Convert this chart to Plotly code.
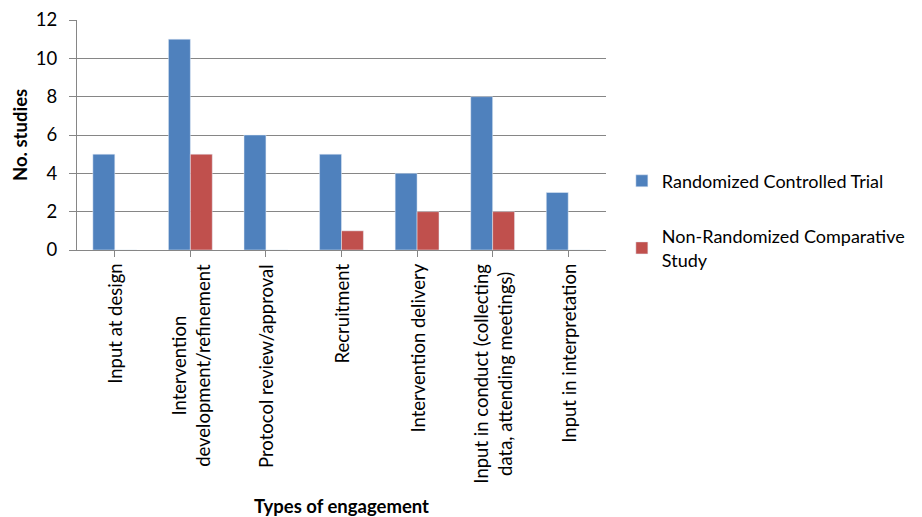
import plotly.graph_objects as go

categories = [
    "Input at design",
    "Intervention<br>development/refinement",
    "Protocol review/approval",
    "Recruitment",
    "Intervention delivery",
    "Input in conduct (collecting<br>data, attending meetings)",
    "Input in interpretation",
]
rct = [5, 11, 6, 5, 4, 8, 3]
nrcs = [0, 5, 0, 1, 2, 2, 0]
series_names = ["Randomized Controlled Trial", "Non-Randomized Comparative<br>Study"]
y_ticks = [0, 2, 4, 6, 8, 10, 12]

FONT = "Lato"
FS = 18.5
GRID = "#868686"

fig = go.Figure()
fig.add_trace(go.Bar(x=list(range(len(categories))), y=rct, name=series_names[0],
                     marker_color="#4F81BD", legendgroup="a"))
fig.add_trace(go.Bar(x=list(range(len(categories))), y=nrcs, name=series_names[1],
                     marker_color="#C0504D", legendgroup="b"))

for i, c in enumerate(categories):
    fig.add_annotation(x=i, y=0, xref="x", yref="paper", yshift=-12,
                       text=c, textangle=-90, showarrow=False,
                       xanchor="center", yanchor="top", align="center",
                       font=dict(family=FONT, size=FS, color="#000"))

fig.add_annotation(x=0.5, y=0, xref="paper", yref="paper", yshift=-256,
                   text="<b>Types of engagement</b>", showarrow=False,
                   xanchor="center", yanchor="middle",
                   font=dict(family=FONT, size=FS, color="#000"))
fig.add_annotation(x=0, y=0.5, xref="paper", yref="paper", xshift=-57,
                   text="<b>No. studies</b>", textangle=-90, showarrow=False,
                   xanchor="center", yanchor="middle",
                   font=dict(family=FONT, size=FS, color="#000"))

fig.update_layout(
    width=922, height=517,
    margin=dict(l=77, r=314, t=20, b=267),
    paper_bgcolor="white", plot_bgcolor="white",
    barmode="group", bargap=0.42, bargroupgap=0,
    font=dict(family=FONT, size=FS, color="#000"),
    legend=dict(x=1.03, y=0.38, xanchor="left", yanchor="top",
                tracegroupgap=29, font=dict(family=FONT, size=18),
                bgcolor="rgba(0,0,0,0)", itemwidth=30, borderwidth=0),
    xaxis=dict(range=[-0.5, len(categories) - 0.5], tickmode="array",
               tickvals=list(range(len(categories))), ticktext=[""] * len(categories),
               showticklabels=False, ticks="outside", tickson="boundaries",
               ticklen=6, tickcolor=GRID, showline=True, linecolor=GRID,
               linewidth=1, showgrid=False, zeroline=False, fixedrange=True,
               automargin=False),
    yaxis=dict(range=[0, 12], tickvals=y_ticks, ticks="outside", ticklen=7,
               tickcolor=GRID, showline=True, linecolor=GRID, linewidth=1,
               showgrid=True, gridcolor=GRID, gridwidth=1, zeroline=False,
               tickfont=dict(family=FONT, size=FS), ticklabelstandoff=8,
               automargin=False),
)

fig.write_html("out.html")
